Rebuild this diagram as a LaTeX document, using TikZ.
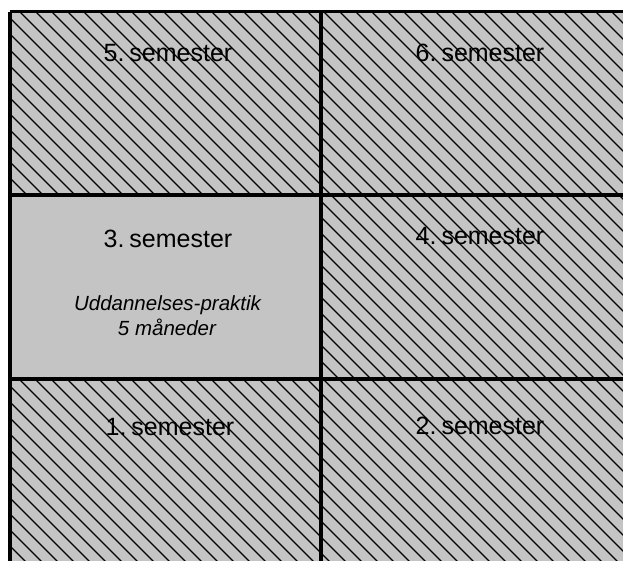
\documentclass[tikz,border=0pt]{standalone}
\usepackage{fontspec}
\setmainfont{Liberation Sans}
\definecolor{cellgray}{HTML}{C4C4C4}
\tikzset{
  semlabel/.style={anchor=base, inner sep=0pt, font=\fontsize{25}{30}\selectfont},
  notelabel/.style={anchor=base, inner sep=0pt, font=\fontsize{20.5}{25}\selectfont\itshape},
  hatchline/.style={line width=1.3pt, black},
  gridline/.style={line width=4pt, black}
}
\newcommand{\semspace}{\hspace{0.2em}}
\begin{document}
\begin{tikzpicture}[x=1pt, y=-1pt]
  \useasboundingbox (0,0) rectangle (623,560);
  % grid coordinates
  \def\xl{9.5}\def\xm{321}\def\xr{640}
  \def\ya{11.5}\def\yb{194.7}\def\yc{378.7}\def\yd{563}
  % background
  \fill[white] (0,0) rectangle (623,560);
  \fill[cellgray] (\xl,\ya) rectangle (\xr,\yd);
  % hatched cells (all except the internship semester)
  \foreach \xa/\xb/\ytop/\ybot in {\xl/\xm/\ya/\yb, \xm/\xr/\ya/\yb, \xm/\xr/\yb/\yc, \xl/\xm/\yc/\yd, \xm/\xr/\yc/\yd}{
    \begin{scope}
      \clip (\xa,\ytop) rectangle (\xb,\ybot);
      \foreach \c in {-600,-584,...,660}{
        \draw[hatchline] (\c,0) -- (\c+600,600);
      }
    \end{scope}
  }
  % grid lines
  \draw[gridline] (\xl,\ya) -- (\xl,\yd);
  \draw[gridline] (\xm,\ya) -- (\xm,\yd);
  \draw[gridline, line width=3.5pt] (\xl,\ya) -- (\xr,\ya);
  \draw[gridline] (\xl,\yb) -- (\xr,\yb);
  \draw[gridline] (\xl,\yc) -- (\xr,\yc);
  % labels
  \node[semlabel] (s5) at (168,61) {5.\semspace semester};
  \node[semlabel] (s6) at (480,61) {6.\semspace semester};
  \node[semlabel] (s3) at (168,247) {3.\semspace semester};
  \node[semlabel] (s4) at (480,244) {4.\semspace semester};
  \node[semlabel] (s1) at (170,435) {1.\semspace semester};
  \node[semlabel] (s2) at (480,434) {2.\semspace semester};
  \node[notelabel] (n1) at (167.5,310) {Uddannelses-praktik};
  \node[notelabel] (n2) at (167,335) {5 måneder};
\end{tikzpicture}
\end{document}
